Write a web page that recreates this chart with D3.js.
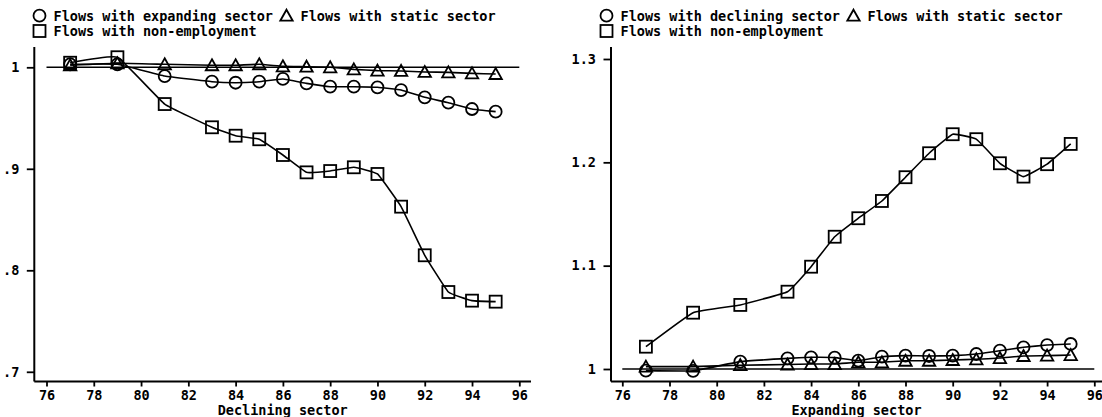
<!DOCTYPE html>
<html><head><meta charset="utf-8">
<script src="https://cdn.jsdelivr.net/npm/d3@7"></script>
<style>
html,body{margin:0;padding:0;background:#fff;}
svg{display:block;}
text{font-family:"DejaVu Sans Mono",monospace;font-size:13.5px;font-weight:bold;fill:#000;}
</style></head>
<body>
<svg id="chart" width="1102" height="417"></svg>
<script>
// ---- data ----
const years = [77,79,81,83,84,85,86,87,88,89,90,91,92,93,94,95];
const xTicks = [76,78,80,82,84,86,88,90,92,94,96];

// Left panel: Declining sector
const declExpanding = [1.003,1.003,0.9914,0.9858,0.9848,0.9858,0.9885,0.9842,0.9809,0.9809,0.9803,0.9776,0.9704,0.9651,0.9589,0.9563];
const declStatic    = [1.002,1.004,1.003,1.002,1.002,1.003,1.001,1.0006,1.0,0.998,0.9967,0.9964,0.9954,0.995,0.994,0.9934];
const declNonEmp    = [1.0045,1.0099,0.9638,0.9409,0.9326,0.9291,0.9136,0.8965,0.8978,0.9015,0.8949,0.8627,0.8148,0.7786,0.7701,0.7691];
const leftYTicks  = [0.7,0.8,0.9,1];
const leftYLabels = [".7",".8",".9","1"];

// Right panel: Expanding sector
const expDeclining = [0.9984,0.9982,1.0071,1.0103,1.0113,1.011,1.0081,1.0119,1.0129,1.0126,1.0129,1.0145,1.0177,1.021,1.0232,1.0242];
const expStatic    = [1.0023,1.0023,1.0037,1.0043,1.0048,1.0048,1.0065,1.0065,1.008,1.008,1.0087,1.0094,1.0106,1.0126,1.0129,1.0135];
const expNonEmp    = [1.0216,1.0545,1.062,1.0748,1.099,1.128,1.1459,1.1626,1.1856,1.2088,1.2272,1.2224,1.1991,1.1862,1.1982,1.2178];
const rightYTicks  = [1,1.1,1.2,1.3];
const rightYLabels = ["1","1.1","1.2","1.3"];

const leftLegend  = ["Flows with expanding sector","Flows with static sector","Flows with non-employment"];
const rightLegend = ["Flows with declining sector","Flows with static sector","Flows with non-employment"];
const leftTitle = "Declining sector";
const rightTitle = "Expanding sector";

// ---- drawing ----
const svg = d3.select("#chart");
const triPath = "M0,-6L6.2,5L-6.2,5Z";

function marker(g, shape, x, y){
  if(shape==="circle") g.append("circle").attr("cx",x).attr("cy",y).attr("r",6)
      .attr("fill","none").attr("stroke","#000").attr("stroke-width",1.8);
  else if(shape==="square") g.append("rect").attr("x",x-6).attr("y",y-6).attr("width",12).attr("height",12)
      .attr("fill","none").attr("stroke","#000").attr("stroke-width",1.8);
  else g.append("path").attr("d",triPath).attr("transform",`translate(${x},${y})`)
      .attr("fill","none").attr("stroke","#000").attr("stroke-width",1.8);
}

function panel(cfg){
  const x = d3.scaleLinear().domain([76,96]).range(cfg.xr);
  const y = d3.scaleLinear().domain(cfg.yd).range(cfg.yr);
  const g = svg.append("g");

  // axis lines
  g.append("line").attr("x1",cfg.axX).attr("x2",cfg.axX).attr("y1",47).attr("y2",cfg.axY)
    .attr("stroke","#000").attr("stroke-width",2);
  g.append("line").attr("x1",cfg.axX).attr("x2",cfg.xEnd).attr("y1",cfg.axY).attr("y2",cfg.axY)
    .attr("stroke","#000").attr("stroke-width",2);

  // y axis ticks
  const ya = d3.axisLeft(y).tickValues(cfg.yTicks).tickSize(7.5).tickPadding(7.5)
    .tickFormat((d,i)=>cfg.yLabels[i]);
  const yg = g.append("g").attr("transform",`translate(${cfg.axX},0)`).call(ya);
  yg.select(".domain").remove();
  yg.selectAll("line").attr("stroke","#000").attr("stroke-width",1.8);
  yg.selectAll("text").attr("font-family",null).attr("font-size",null).attr("fill","#000");

  // x axis ticks
  const xa = d3.axisBottom(x).tickValues(xTicks).tickSize(5).tickPadding(4).tickFormat(d3.format("d"));
  const xg = g.append("g").attr("transform",`translate(0,${cfg.axY})`).call(xa);
  xg.select(".domain").remove();
  xg.selectAll("line").attr("stroke","#000").attr("stroke-width",1.8);
  xg.selectAll("text").attr("font-family",null).attr("font-size",null).attr("fill","#000");

  // axis title
  g.append("text").attr("x",(cfg.axX+cfg.xEnd)/2).attr("y",415).attr("text-anchor","middle").text(cfg.title);

  // reference line at 1
  g.append("line").attr("x1",x(76)).attr("x2",x(96)).attr("y1",y(1)).attr("y2",y(1))
    .attr("stroke","#000").attr("stroke-width",1.6);

  const line = d3.line().x((d,i)=>x(years[i])).y(d=>y(d)).curve(d3.curveCardinal.tension(0.7));
  cfg.series.forEach(s=>{
    g.append("path").attr("d",line(s.values)).attr("fill","none").attr("stroke","#000").attr("stroke-width",1.6);
  });
  cfg.series.forEach(s=>{
    s.values.forEach((v,i)=>marker(g,s.shape,x(years[i]),y(v)));
  });

  // legend
  const L = cfg.legendX;
  const lg = svg.append("g");
  marker(lg,"circle",L,15.7);
  lg.append("text").attr("x",L+14).attr("y",15.7).attr("dy","0.36em").text(cfg.legend[0]);
  marker(lg,"triangle",L+247,15.7);
  lg.append("text").attr("x",L+261).attr("y",15.7).attr("dy","0.36em").text(cfg.legend[1]);
  marker(lg,"square",L,31);
  lg.append("text").attr("x",L+14).attr("y",31).attr("dy","0.36em").text(cfg.legend[2]);
}

panel({
  xr:[46.5,519.3], yd:[0.7,1], yr:[371.8,67.3], axX:34.3, axY:381.5, xEnd:531,
  yTicks:leftYTicks, yLabels:leftYLabels, title:leftTitle, legend:leftLegend, legendX:39.5,
  series:[{values:declExpanding,shape:"circle"},{values:declStatic,shape:"triangle"},{values:declNonEmp,shape:"square"}]
});
panel({
  xr:[622.3,1094.3], yd:[1,1.3], yr:[369,59], axX:611, axY:381.5, xEnd:1102,
  yTicks:rightYTicks, yLabels:rightYLabels, title:rightTitle, legend:rightLegend, legendX:606.5,
  series:[{values:expDeclining,shape:"circle"},{values:expStatic,shape:"triangle"},{values:expNonEmp,shape:"square"}]
});
</script>
</body></html>
